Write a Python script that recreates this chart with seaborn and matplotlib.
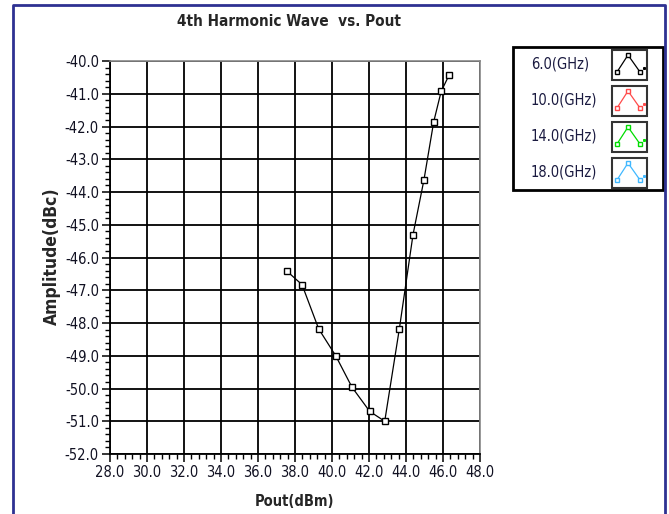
import numpy as np
import pandas as pd
import matplotlib
matplotlib.use("Agg")
import matplotlib.pyplot as plt
import seaborn as sns
from matplotlib.patches import Rectangle
from matplotlib.lines import Line2D
from matplotlib.ticker import MultipleLocator, FormatStrFormatter
from matplotlib import font_manager

# ---- data ----
pout = [37.55, 38.38, 39.28, 40.2, 41.08, 42.04, 42.85, 43.64, 44.38, 44.97, 45.5, 45.9, 46.32]
amp = [-46.41, -46.83, -48.18, -49.0, -49.96, -50.7, -51.0, -48.18, -45.3, -43.63, -41.85, -40.93, -40.44]
freq_labels = ["6.0(GHz)", "10.0(GHz)", "14.0(GHz)", "18.0(GHz)"]
freq_colors = ["#000000", "#ff4a4a", "#00dd00", "#40b8ff"]
title = "4th Harmonic Wave  vs. Pout"
x_label = "Pout(dBm)"
y_label = "Amplitude(dBc)"

df = pd.DataFrame({"Pout": pout, "Amp": amp})

sns.set_style("white")
cond = [f for f in font_manager.fontManager.ttflist if "condensed" in str(f.stretch).lower()
        or "Condensed" in f.fname]
has_cond = any("DejaVu" in f.name for f in cond)
plt.rcParams['font.family'] = ['DejaVu Sans'] if has_cond else ['Liberation Sans', 'DejaVu Sans']
if has_cond:
    plt.rcParams['font.stretch'] = 'condensed'

W, H = 669, 514
fig = plt.figure(figsize=(W / 100, H / 100), dpi=100)

def fx(x):
    return x / W

def fy(y):
    return 1 - y / H

ax = fig.add_axes([fx(110), fy(454), 370 / W, 393 / H])
sns.lineplot(data=df, x="Pout", y="Amp", ax=ax, sort=False, color="black", lw=0.9,
             marker="s", markersize=5, markerfacecolor="white", markeredgecolor="black",
             markeredgewidth=1.0, zorder=5)

ax.set_xlim(28, 48)
ax.set_ylim(-52, -40)
ax.xaxis.set_major_locator(MultipleLocator(2))
ax.xaxis.set_minor_locator(MultipleLocator(0.4))
ax.yaxis.set_major_locator(MultipleLocator(1))
ax.yaxis.set_minor_locator(MultipleLocator(0.2))
ax.xaxis.set_major_formatter(FormatStrFormatter("%.1f"))
ax.yaxis.set_major_formatter(FormatStrFormatter("%.1f"))
ax.tick_params(which="major", direction="out", length=6, width=1.1, color="black",
               labelsize=10.5, pad=2, bottom=True, left=True, labelcolor="#111122")
ax.tick_params(which="minor", direction="out", length=3.5, width=1.0, color="black",
               bottom=True, left=True)
ax.grid(True, which="major", color="black", lw=1.3)
ax.set_xlabel("")
ax.set_ylabel("")
for s in ["left", "bottom"]:
    ax.spines[s].set_color("black")
    ax.spines[s].set_linewidth(1.3)
for s in ["top", "right"]:
    ax.spines[s].set_color("#888888")
    ax.spines[s].set_linewidth(1.2)

fig.text(fx(289), fy(22), title, ha="center", va="center", fontsize=11,
         fontweight="bold")
fig.text(fx(294), fy(502), x_label, ha="center", va="center", fontsize=10.5,
         fontweight="bold")
fig.text(fx(52), fy(256), y_label, ha="center", va="center", rotation=90,
         fontsize=12.5, fontweight="bold")

# outer navy frame (left, top, right)
navy = "#2e3192"
fig.add_artist(Line2D([fx(13), fx(13), fx(665), fx(665)], [fy(520), fy(5), fy(5), fy(520)],
                      transform=fig.transFigure, color=navy, lw=2))

# legend
fig.add_artist(Rectangle((fx(513), fy(190)), 150 / W, 143 / H, transform=fig.transFigure,
                         fill=False, edgecolor="black", lw=2))
row_tops = [50, 86, 122, 158]
for lab, col, top in zip(freq_labels, freq_colors, row_tops):
    fig.text(fx(531), fy(top + 14), lab, ha="left", va="center",
             fontsize=10.5, color="#1a1a40")
    fig.add_artist(Rectangle((fx(612), fy(top + 30)), 35 / W, 30 / H, transform=fig.transFigure,
                             fill=False, edgecolor="#333333", lw=1.5))
    xs = [617, 628, 640]
    ys = [top + 22, top + 5, top + 22]
    fig.add_artist(Line2D([fx(v) for v in xs], [fy(v) for v in ys], transform=fig.transFigure,
                          color=col, lw=0.9, marker="s", markersize=3.5,
                          markerfacecolor="white", markeredgecolor=col, markeredgewidth=1))
    fig.add_artist(Line2D([fx(644)], [fy(top + 18)], transform=fig.transFigure, color=col,
                          marker="s", markersize=1.2, lw=0))

fig.savefig("out.png", dpi=100)
